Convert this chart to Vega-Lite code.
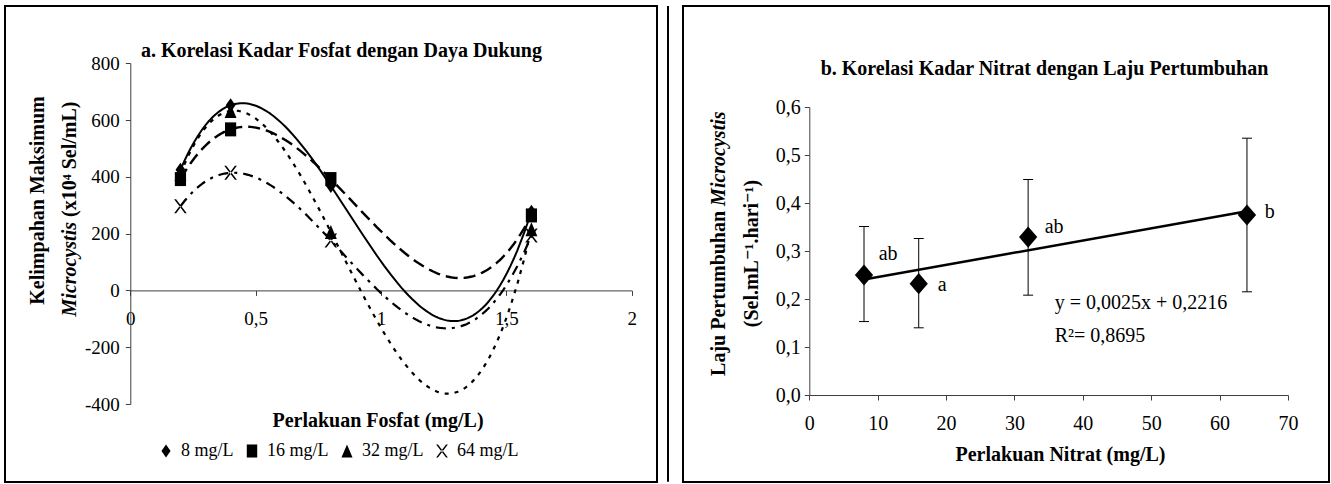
{
  "$schema": "https://vega.github.io/schema/vega-lite/v6.json",
  "background": "white",
  "padding": {"left": 4, "top": 4, "right": 3, "bottom": 2},
  "spacing": 11,
  "config": {
    "view": {"stroke": "black", "strokeWidth": 2},
    "font": "Liberation Serif, Tinos, DejaVu Serif, serif",
    "axis": {"grid": false, "domainColor": "#404040", "tickColor": "#404040", "labelColor": "black", "titleColor": "black", "labelFont": "Liberation Serif, Tinos, DejaVu Serif, serif", "titleFont": "Liberation Serif, Tinos, DejaVu Serif, serif", "titleFontWeight": "bold", "tickSize": 5, "domainWidth": 1, "tickWidth": 1, "labelFlush": false, "labelOverlap": false},
    "legend": {"labelFont": "Liberation Serif, Tinos, DejaVu Serif, serif"},
    "text": {"font": "Liberation Serif, Tinos, DejaVu Serif, serif", "color": "black"}
  },
  "datasets": {
    "fosfat": [
      {"series": "8 mg/L", "x": 0.2, "y": 425}, {"series": "8 mg/L", "x": 0.4, "y": 652}, {"series": "8 mg/L", "x": 0.8, "y": 368}, {"series": "8 mg/L", "x": 1.6, "y": 277},
      {"series": "16 mg/L", "x": 0.2, "y": 392}, {"series": "16 mg/L", "x": 0.4, "y": 567}, {"series": "16 mg/L", "x": 0.8, "y": 392}, {"series": "16 mg/L", "x": 1.6, "y": 264},
      {"series": "32 mg/L", "x": 0.2, "y": 410}, {"series": "32 mg/L", "x": 0.4, "y": 632}, {"series": "32 mg/L", "x": 0.8, "y": 206}, {"series": "32 mg/L", "x": 1.6, "y": 215},
      {"series": "64 mg/L", "x": 0.2, "y": 296}, {"series": "64 mg/L", "x": 0.4, "y": 414}, {"series": "64 mg/L", "x": 0.8, "y": 176}, {"series": "64 mg/L", "x": 1.6, "y": 193}
    ],
    "nitrat": [
      {"x": 8, "y": 0.25, "lo": 0.153, "hi": 0.351},
      {"x": 16, "y": 0.232, "lo": 0.14, "hi": 0.326},
      {"x": 32, "y": 0.329, "lo": 0.208, "hi": 0.449},
      {"x": 64, "y": 0.375, "lo": 0.215, "hi": 0.535}
    ]
  },
  "hconcat": [
    {
      "width": 652,
      "height": 476,
      "encoding": {
        "x": {"field": "x", "type": "quantitative", "scale": {"domain": [0, 2], "range": [125.3, 626.7], "nice": false, "zero": false},
          "axis": {"values": [0, 0.5, 1, 1.5, 2], "labelExpr": "replace(toString(datum.value), '.', ',')", "offset": -191.6, "title": "Perlakuan Fosfat (mg/L)", "titleFontSize": 20, "titleX": 372.5, "titleY": 130, "titleBaseline": "middle", "labelFontSize": 19, "labelPadding": 14}},
        "y": {"field": "y", "type": "quantitative", "scale": {"domain": [-400, 800], "range": [398, 57.2], "nice": false, "zero": false},
          "axis": {"values": [-400, -200, 0, 200, 400, 600, 800], "labelExpr": "toString(datum.value)", "offset": -125.3, "title": null, "labelFontSize": 19, "labelPadding": 6}}
      },
      "layer": [
        {
          "data": {"values": [{"x": 2.1448, "y": 1001, "y2": -674}]},
          "mark": {"type": "rule", "color": "black", "strokeWidth": 2},
          "encoding": {"y2": {"field": "y2"}}
        },
        {
          "data": {"name": "fosfat"},
          "transform": [{"filter": "datum.series === '8 mg/L'"}, {"regression": "y", "on": "x", "method": "poly", "order": 3, "extent": [0.2, 1.6]}],
          "mark": {"type": "line", "color": "black", "strokeWidth": 2}
        },
        {
          "data": {"name": "fosfat"},
          "transform": [{"filter": "datum.series === '16 mg/L'"}, {"regression": "y", "on": "x", "method": "poly", "order": 3, "extent": [0.2, 1.6]}],
          "mark": {"type": "line", "color": "black", "strokeWidth": 2.4, "strokeDash": [12, 6]}
        },
        {
          "data": {"name": "fosfat"},
          "transform": [{"filter": "datum.series === '32 mg/L'"}, {"regression": "y", "on": "x", "method": "poly", "order": 3, "extent": [0.2, 1.6]}],
          "mark": {"type": "line", "color": "black", "strokeWidth": 2.2, "strokeDash": [4, 6]}
        },
        {
          "data": {"name": "fosfat"},
          "transform": [{"filter": "datum.series === '64 mg/L'"}, {"regression": "y", "on": "x", "method": "poly", "order": 3, "extent": [0.2, 1.6]}],
          "mark": {"type": "line", "color": "black", "strokeWidth": 2.2, "strokeDash": [10, 6, 3, 6]}
        },
        {
          "data": {"name": "fosfat"},
          "mark": {"type": "point", "filled": true, "color": "black", "opacity": 1, "size": 196},
          "encoding": {
            "shape": {"field": "series", "type": "nominal",
              "scale": {"domain": ["8 mg/L", "16 mg/L", "32 mg/L", "64 mg/L"], "range": ["M0,-1L0.7,0L0,1L-0.7,0Z", "M-0.8,-1H0.8V1H-0.8Z", "M0,-1L0.85,1H-0.85Z", "M-0.9,-1L-0.62,-1L0.9,1L0.62,1Z M0.9,-1L0.62,-1L-0.9,1L-0.62,1Z"]},
              "legend": {"orient": "none", "legendX": 152, "legendY": 436, "direction": "horizontal", "title": null, "labelFontSize": 18, "labelColor": "black", "symbolSize": 170, "symbolFillColor": "black", "symbolStrokeWidth": 0, "symbolOpacity": 1, "columnPadding": 9, "labelOffset": 6,
                "encode": {"labels": {"update": {"dy": {"value": 3}}}}}}
          }
        },
        {
          "data": {"values": [{"x": 0.842, "y": 843, "t": "a. Korelasi Kadar Fosfat dengan Daya Dukung"}]},
          "mark": {"type": "text", "fontSize": 20, "fontWeight": "bold", "align": "center", "baseline": "middle"},
          "encoding": {"text": {"field": "t"}}
        },
        {
          "data": {"values": [{"x": -0.368, "y": 316.5, "t": "Kelimpahan Maksimum"}]},
          "mark": {"type": "text", "fontSize": 20, "fontWeight": "bold", "align": "center", "baseline": "middle", "angle": 270},
          "encoding": {"text": {"field": "t"}}
        },
        {
          "data": {"values": [{"x": -0.2405, "y": 240.8, "t": "Microcystis"}]},
          "mark": {"type": "text", "fontSize": 20, "fontWeight": "bold", "fontStyle": "italic", "align": "right", "baseline": "middle", "angle": 270},
          "encoding": {"text": {"field": "t"}}
        },
        {
          "data": {"values": [{"x": -0.2405, "y": 240.8, "t": "(x10⁴ Sel/mL)"}]},
          "mark": {"type": "text", "fontSize": 20, "fontWeight": "bold", "align": "left", "baseline": "middle", "angle": 270, "dx": 5},
          "encoding": {"text": {"field": "t"}}
        }
      ]
    },
    {
      "width": 646,
      "height": 476,
      "encoding": {
        "x": {"field": "x", "type": "quantitative", "scale": {"domain": [0, 70], "range": [126.3, 605], "nice": false, "zero": false},
          "axis": {"values": [0, 10, 20, 30, 40, 50, 60, 70], "offset": -87, "title": "Perlakuan Nitrat (mg/L)", "titleFontSize": 20, "titleX": 377, "titleY": 59, "titleBaseline": "middle", "labelFontSize": 20, "labelPadding": 13}},
        "y": {"field": "y", "type": "quantitative", "scale": {"domain": [0, 0.6], "range": [389, 101], "nice": false, "zero": false},
          "axis": {"values": [0, 0.1, 0.2, 0.3, 0.4, 0.5, 0.6], "labelExpr": "replace(format(datum.value, '.1f'), '.', ',')", "offset": -126.3, "title": null, "labelFontSize": 20, "labelPadding": 4}}
      },
      "layer": [
        {
          "data": {"name": "nitrat"},
          "mark": {"type": "rule", "color": "black", "strokeWidth": 1},
          "encoding": {"y": {"field": "lo", "type": "quantitative"}, "y2": {"field": "hi"}}
        },
        {
          "data": {"name": "nitrat"},
          "mark": {"type": "tick", "orient": "horizontal", "color": "black", "size": 10, "thickness": 1, "opacity": 1},
          "encoding": {"y": {"field": "lo", "type": "quantitative"}}
        },
        {
          "data": {"name": "nitrat"},
          "mark": {"type": "tick", "orient": "horizontal", "color": "black", "size": 10, "thickness": 1, "opacity": 1},
          "encoding": {"y": {"field": "hi", "type": "quantitative"}}
        },
        {
          "data": {"name": "nitrat"},
          "transform": [{"regression": "y", "on": "x", "method": "linear", "extent": [8, 64]}],
          "mark": {"type": "line", "color": "black", "strokeWidth": 2.5}
        },
        {
          "data": {"name": "nitrat"},
          "mark": {"type": "point", "filled": true, "color": "black", "opacity": 1, "size": 450, "shape": "M0,-1L0.86,0L0,1L-0.86,0Z"}
        },
        {
          "data": {"values": [{"x": 10.15, "y": 0.294, "t": "ab"}, {"x": 18.77, "y": 0.229, "t": "a"}, {"x": 34.42, "y": 0.35, "t": "ab"}, {"x": 66.59, "y": 0.382, "t": "b"}]},
          "mark": {"type": "text", "fontSize": 20, "align": "left", "baseline": "middle"},
          "encoding": {"text": {"field": "t"}}
        },
        {
          "data": {"values": [{"x": 35.88, "y": 0.1923, "t": "y = 0,0025x + 0,2216"}, {"x": 35.88, "y": 0.1229, "t": "R²= 0,8695"}]},
          "mark": {"type": "text", "fontSize": 20, "align": "left", "baseline": "middle"},
          "encoding": {"text": {"field": "t"}}
        },
        {
          "data": {"values": [{"x": 34.39, "y": 0.6785, "t": "b. Korelasi Kadar Nitrat dengan Laju Pertumbuhan"}]},
          "mark": {"type": "text", "fontSize": 20, "fontWeight": "bold", "align": "center", "baseline": "middle"},
          "encoding": {"text": {"field": "t"}}
        },
        {
          "data": {"values": [{"x": -13.25, "y": 0.394, "t": "Laju Pertumbuhan"}]},
          "mark": {"type": "text", "fontSize": 20, "fontWeight": "bold", "align": "right", "baseline": "middle", "angle": 270, "dx": -5},
          "encoding": {"text": {"field": "t"}}
        },
        {
          "data": {"values": [{"x": -13.25, "y": 0.394, "t": "Microcystis"}]},
          "mark": {"type": "text", "fontSize": 20, "fontWeight": "bold", "fontStyle": "italic", "align": "left", "baseline": "middle", "angle": 270},
          "encoding": {"text": {"field": "t"}}
        },
        {
          "data": {"values": [{"x": -8.38, "y": 0.2948, "t": "(Sel.mL⁻¹.hari⁻¹)"}]},
          "mark": {"type": "text", "fontSize": 20, "fontWeight": "bold", "align": "center", "baseline": "middle", "angle": 270},
          "encoding": {"text": {"field": "t"}}
        }
      ]
    }
  ]
}
